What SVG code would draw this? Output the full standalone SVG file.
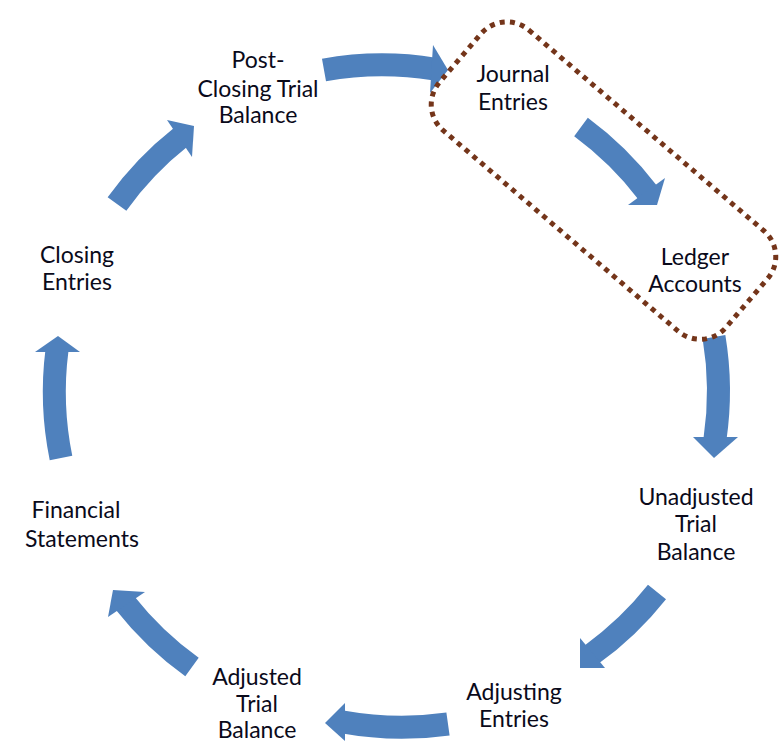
<svg xmlns="http://www.w3.org/2000/svg" width="784" height="742" viewBox="0 0 784 742">
  <defs>
    <style>
      .lbl { font-family: Lato, "Open Sans", "Liberation Sans", sans-serif; font-size: 23px; fill: #0a0a1a; text-anchor: middle; }
      .shaft { fill: none; stroke: #4F81BD; stroke-width: 23; stroke-linecap: butt; }
      .head { fill: #4F81BD; }
      .group-box { fill: none; stroke: #74351A; stroke-width: 5; stroke-dasharray: 5 5.2; }
    </style>
  </defs>
  <rect width="784" height="742" fill="#ffffff"/>

  <!-- curved cycle arrows -->
  <g id="connectors">
    <path class="shaft" d="M324,70 A330,330 0 0 1 434,69"/>
    <polygon class="head" points="433,45 448,70 430,93"/>

    <path class="shaft" d="M581,127 A330,330 0 0 1 648,193"/>
    <polygon class="head" points="665,178 657,205 628,205"/>

    <path class="shaft" d="M714,337 A330,330 0 0 1 715,439"/>
    <polygon class="head" points="738,437 714,458 693,437"/>

    <path class="shaft" d="M657,592 A330,330 0 0 1 591,655"/>
    <polygon class="head" points="605,668 580,668 580,638"/>

    <path class="shaft" d="M448,724 A330,330 0 0 1 343,722"/>
    <polygon class="head" points="345,741 325,723 345,703"/>

    <path class="shaft" d="M192,667 A330,330 0 0 1 125,603"/>
    <polygon class="head" points="108,617 113,590 145,592"/>

    <path class="shaft" d="M61,458 A330,330 0 0 1 57,350"/>
    <polygon class="head" points="35,352 58,336 80,352"/>

    <path class="shaft" d="M117,204 A330,330 0 0 1 181,137"/>
    <polygon class="head" points="167,120 194,126 192,157"/>
  </g>

  <!-- dotted grouping around the posting steps -->
  <g id="posting-group">
    <rect class="group-box" x="415" y="114.6" width="377" height="132" rx="34" ry="34" transform="rotate(40.5 603.5 180.6)"/>
  </g>

  <g id="journal-entries">
    <text class="lbl" x="513" y="82">Journal</text>
    <text class="lbl" x="513" y="110">Entries</text>
  </g>
  <g id="ledger-accounts">
    <text class="lbl" x="695" y="265">Ledger</text>
    <text class="lbl" x="695" y="292">Accounts</text>
  </g>
  <g id="unadjusted-trial-balance">
    <text class="lbl" x="696" y="505">Unadjusted</text>
    <text class="lbl" x="696" y="532">Trial</text>
    <text class="lbl" x="696" y="560">Balance</text>
  </g>
  <g id="adjusting-entries">
    <text class="lbl" x="514" y="700">Adjusting</text>
    <text class="lbl" x="514" y="727">Entries</text>
  </g>
  <g id="adjusted-trial-balance">
    <text class="lbl" x="257" y="685">Adjusted</text>
    <text class="lbl" x="257" y="712">Trial</text>
    <text class="lbl" x="257" y="738">Balance</text>
  </g>
  <g id="financial-statements">
    <text class="lbl" x="76" y="518">Financial</text>
    <text class="lbl" x="82" y="547">Statements</text>
  </g>
  <g id="closing-entries">
    <text class="lbl" x="77" y="263">Closing</text>
    <text class="lbl" x="77" y="290">Entries</text>
  </g>
  <g id="post-closing-trial-balance">
    <text class="lbl" x="258" y="68">Post-</text>
    <text class="lbl" x="258" y="97">Closing Trial</text>
    <text class="lbl" x="258" y="123">Balance</text>
  </g>
</svg>
